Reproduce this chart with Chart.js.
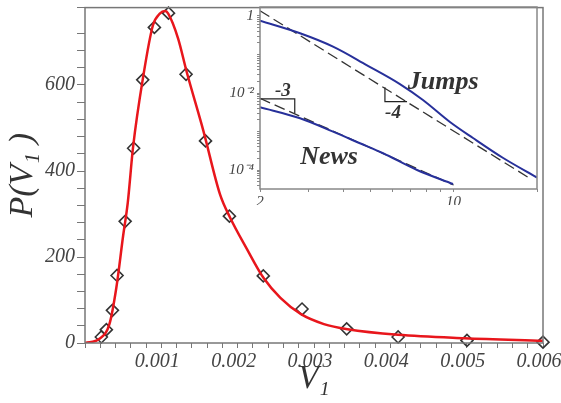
<!DOCTYPE html>
<html lang="en">
<head>
<meta charset="UTF-8">
<title>P(V1) distribution</title>
<script src="https://cdn.jsdelivr.net/npm/chart.js"></script>
<style>
  body { margin: 0; background: #fff; }
  #wrap { position: relative; width: 561px; height: 403px; }
  #main { position: absolute; left: 0; top: 0; }
  #inset { position: absolute; left: 215px; top: 0; }
</style>
</head>
<body>
<div id="wrap">
  <canvas id="main" width="561" height="403"></canvas>
  <canvas id="inset" width="330" height="205"></canvas>
</div>

<script>
// --- main panel: measured histogram (diamonds) and fitted curve ---
const histV = [0.000214, 0.00028, 0.000359, 0.00042, 0.000526, 0.000637, 0.000756, 0.000909, 0.001094,
               0.001324, 0.001579, 0.001892, 0.002336, 0.002843, 0.003428, 0.004102, 0.005004, 0.006];
const histP = [14, 31, 76, 157, 283, 453, 612, 734, 767, 625, 470, 295, 156, 79, 33, 14, 6, 2];

const fitV = [0, 0.00019, 0.00032, 0.00041, 0.0005, 0.00056, 0.00063, 0.00076, 0.00089, 0.00098, 0.00105,
              0.00109, 0.00122, 0.00133, 0.00155, 0.00177, 0.0019, 0.00212, 0.00234, 0.00256, 0.00283,
              0.00313, 0.00344, 0.0041, 0.00497, 0.006];
const fitP = [0, 10, 44, 128, 250, 326, 456, 617, 739, 766, 772, 766, 708, 632, 494, 345, 292, 219, 151,
              105, 67, 44, 32, 19, 11, 5];

// --- inset: log-log tails ---
const jumpsX = [2, 2.79, 3.67, 4.85, 6.4, 7.75, 9.7, 11.75, 15.1, 20];
const jumpsY = [0.755, 0.356, 0.160, 0.0533, 0.0171, 0.00658, 0.00177, 0.000678, 0.000205, 0.0000638];
const newsX = [2, 2.79, 3.67, 4.59, 5.56, 7.38, 9.95];
const newsY = [0.00425, 0.0022, 0.000988, 0.000494, 0.000272, 0.0001, 0.0000433];

const jumpsFitX = [2, 19];
const jumpsFitY = [1.37, 0.0000584];
const newsFitX = [2, 10];
const newsFitY = [0.00728, 0.0000407];

const tri3X = [2, 2.67, 2.67];
const tri3Y = [0.0070, 0.0070, 0.0030];
const tri4X = [5.65, 5.65, 6.79];
const tri4Y = [0.01406, 0.00594, 0.00594];

const noteText = ['Jumps', 'News', '-3', '-4'];
const noteX = [9.17, 3.55, 2.42, 6.04];
const noteY = [0.0193, 0.000218, 0.01127, 0.00303];

const insetXTickLabels = [2, 10];
const insetYTickValues = [1, 1e-2, 1e-4];
const insetYTickLabels = ['1', '10⁻²', '10⁻⁴'];

// --- helpers ---
const serif = "'Liberation Serif', 'Times New Roman', serif";
const pts = (xs, ys) => xs.map((x, i) => ({ x: x, y: ys[i] }));

const framePlugin = {
    id: 'frame',
    afterDraw(chart, args, opts) {
        const { ctx, chartArea: a } = chart;
        ctx.save();
        ctx.strokeStyle = opts.color;
        ctx.lineWidth = opts.width;
        ctx.strokeRect(a.left, a.top, a.right - a.left, a.bottom - a.top);
        ctx.restore();
    }
};

const notesPlugin = {
    id: 'notes',
    afterDatasetsDraw(chart) {
        const { ctx, scales } = chart;
        ctx.save();
        ctx.fillStyle = '#333';
        ctx.textAlign = 'center';
        ctx.textBaseline = 'middle';
        noteText.forEach((t, i) => {
            const size = t.length > 2 ? 26 : 19;
            ctx.font = `italic bold ${size}px ${serif}`;
            ctx.fillText(t, scales.x.getPixelForValue(noteX[i]), scales.y.getPixelForValue(noteY[i]));
        });
        ctx.restore();
    }
};

// --- main chart ---
new Chart(document.getElementById('main'), {
    type: 'scatter',
    data: {
        datasets: [
            {
                data: pts(fitV, fitP),
                showLine: true,
                borderColor: '#e8161c',
                borderWidth: 2.5,
                pointRadius: 0,
                cubicInterpolationMode: 'monotone'
            },
            {
                data: pts(histV, histP),
                pointStyle: 'rectRot',
                pointRadius: 6,
                borderColor: '#333',
                borderWidth: 1.6,
                backgroundColor: 'rgba(0,0,0,0)',
                clip: false
            }
        ]
    },
    options: {
        responsive: false,
        animation: false,
        layout: { padding: { top: 2, right: 18, left: 0, bottom: 0 } },
        plugins: { legend: { display: false }, tooltip: { enabled: false }, frame: { color: '#777', width: 1.5 } },
        scales: {
            x: {
                type: 'linear', min: 0, max: 0.006,
                ticks: {
                    stepSize: 0.0002, autoSkip: false, maxRotation: 0, minRotation: 0,
                    padding: 2, labelOffset: -4, color: '#444',
                    font: { family: serif, style: 'italic', size: 20 },
                    callback: v => (v > 0 && Math.abs(v * 1000 - Math.round(v * 1000)) < 1e-6) ? v.toFixed(3) : ''
                },
                grid: { drawOnChartArea: false, tickLength: 5, color: '#777' },
                border: { display: false },
                title: { display: true, text: 'V₁', color: '#333', padding: { top: 0, bottom: 4 },
                         font: { family: serif, style: 'italic', size: 33 } },
                afterFit: s => { s.height = 60; s.paddingLeft = 0; s.paddingRight = 0; }
            },
            y: {
                min: 0, max: 780,
                ticks: {
                    stepSize: 40, autoSkip: false, padding: 2, color: '#444',
                    font: { family: serif, style: 'italic', size: 20 },
                    callback: v => v % 200 === 0 ? v : ''
                },
                grid: { drawOnChartArea: false, tickLength: 8, color: '#777' },
                border: { display: false },
                title: { display: true, text: 'P(V₁ )', color: '#333', padding: { top: 3, bottom: 0 },
                         font: { family: serif, style: 'italic', size: 34 } },
                afterFit: s => { s.width = 85; s.paddingTop = 0; s.paddingBottom = 0; }
            }
        }
    },
    plugins: [framePlugin]
});

// --- inset chart ---
const blue = '#27309a';
const dashed = { showLine: true, borderColor: '#333', borderWidth: 1.3, borderDash: [11, 5], pointRadius: 0 };
const tri = { showLine: true, borderColor: '#222', borderWidth: 1.2, pointRadius: 0 };

new Chart(document.getElementById('inset'), {
    type: 'scatter',
    data: {
        datasets: [
            { data: pts(jumpsX, jumpsY), showLine: true, borderColor: blue, borderWidth: 2, pointRadius: 0, cubicInterpolationMode: 'monotone' },
            { data: pts(newsX, newsY), showLine: true, borderColor: blue, borderWidth: 2, pointRadius: 0, cubicInterpolationMode: 'monotone' },
            Object.assign({ data: pts(jumpsFitX, jumpsFitY) }, dashed),
            Object.assign({ data: pts(newsFitX, newsFitY) }, dashed),
            Object.assign({ data: pts(tri3X, tri3Y) }, tri),
            Object.assign({ data: pts(tri4X, tri4Y) }, tri)
        ]
    },
    options: {
        responsive: false,
        animation: false,
        layout: { padding: { top: 7, right: 8, left: 0, bottom: 0 } },
        plugins: { legend: { display: false }, tooltip: { enabled: false }, frame: { color: '#888', width: 1.5 } },
        scales: {
            x: {
                type: 'logarithmic', min: 2, max: 20,
                afterBuildTicks: s => {
                    const t = [];
                    for (let v = 2; v <= 10; v++) t.push({ value: v });
                    t.push({ value: 20 });
                    s.ticks = t;
                },
                ticks: {
                    autoSkip: false, maxRotation: 0, minRotation: 0, padding: 1, color: '#444',
                    font: { family: serif, style: 'italic', size: 15 },
                    callback: v => insetXTickLabels.includes(v) ? String(v) : ''
                },
                grid: { drawOnChartArea: false, tickLength: 3, color: '#888' },
                border: { display: false },
                afterFit: s => { s.height = 16; s.paddingLeft = 0; s.paddingRight = 0; }
            },
            y: {
                type: 'logarithmic', min: 3.21e-5, max: 1.713,
                afterBuildTicks: s => {
                    const t = [];
                    for (let k = -5; k <= 0; k++) {
                        for (let m = 1; m <= 9; m++) {
                            const v = m * Math.pow(10, k);
                            if (v >= s.min && v <= s.max) t.push({ value: v });
                        }
                    }
                    s.ticks = t;
                },
                ticks: {
                    autoSkip: false, padding: 3, color: '#444',
                    font: { family: serif, style: 'italic', size: 15 },
                    callback: v => {
                        const i = insetYTickValues.findIndex(t => Math.abs(t - v) / t < 1e-9);
                        return i >= 0 ? insetYTickLabels[i] : '';
                    }
                },
                grid: { drawOnChartArea: false, tickLength: 3, color: '#888' },
                border: { display: false },
                afterFit: s => { s.width = 45; s.paddingTop = 0; s.paddingBottom = 0; }
            }
        }
    },
    plugins: [framePlugin, notesPlugin]
});
</script>
</body>
</html>
